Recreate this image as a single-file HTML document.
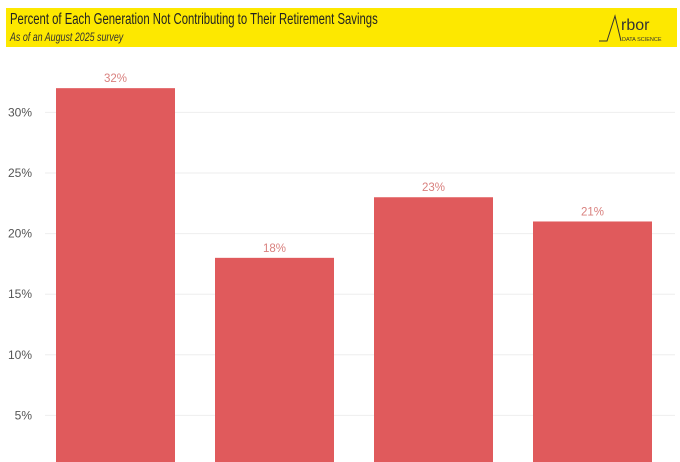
<!DOCTYPE html>
<html><head><meta charset="utf-8"><style>
body{margin:0;width:680px;height:462px;overflow:hidden;background:#fff;font-family:"Liberation Sans",sans-serif}
#hdr{position:absolute;left:6px;top:8px;width:671px;height:39px;background:#fde800}
#t{position:absolute;left:4px;top:3px;font-size:15.5px;color:#222;white-space:nowrap;transform:scaleX(0.73);transform-origin:0 0}
#s{position:absolute;left:4px;top:22px;font-size:12px;font-style:italic;color:#333;white-space:nowrap;transform:scaleX(0.74);transform-origin:0 0}
#logo{position:absolute;right:8px;top:2px;width:72px;height:34px}
</style></head><body>
<div id="hdr">
<div id="t">Percent of Each Generation Not Contributing to Their Retirement Savings</div>
<div id="s">As of an August 2025 survey</div>
<svg id="logo" viewBox="0 0 72 34">
<path d="M2 31 H10 L18 6 L24 31" fill="none" stroke="#333" stroke-width="1"/>
<text x="24" y="20" font-size="16" fill="#333" font-family="Liberation Sans">rbor</text>
<text x="25" y="31" font-size="5.5" fill="#333" font-family="Liberation Sans">DATA SCIENCE</text>
</svg>
</div>
<svg id="chart" width="680" height="462" style="position:absolute;left:0;top:0"></svg>
<script>
const categories=["Gen Z","Millennials","Gen X","Boomers"];
const values=[32,18,23,21];
const ticks=[5,10,15,20,25,30];
const tickLabels=["5%","10%","15%","20%","25%","30%"];
const NS="http://www.w3.org/2000/svg";
const svg=document.getElementById('chart');
const y=v=>476-v*12.12;
const x=i=>56+i*159;
const bw=119;
function mk(t,a){const e=document.createElementNS(NS,t);for(const k in a)e.setAttribute(k,a[k]);svg.appendChild(e);return e;}
ticks.forEach((t,i)=>{
 const g=mk('line',{x1:45,x2:675,y1:y(t),y2:y(t),stroke:'#eeeeee','stroke-width':1});
 
 
 const l=mk('text',{x:32,y:y(t)+4,'text-anchor':'end','font-size':12,fill:'#555','font-family':'Liberation Sans'});
 l.textContent=tickLabels[i];
 
 
});
values.forEach((v,i)=>{
 const r=mk('rect',{x:x(i),y:y(v),width:bw,height:462-y(v),fill:'#e05a5c'});
 
 
 const l=mk('text',{x:x(i)+bw/2,y:y(v)-6,'text-anchor':'middle','font-size':11.5,fill:'#d9807e','font-family':'Liberation Sans'});
 l.textContent=v+'%';
 
 
});
</script>
</body></html>
